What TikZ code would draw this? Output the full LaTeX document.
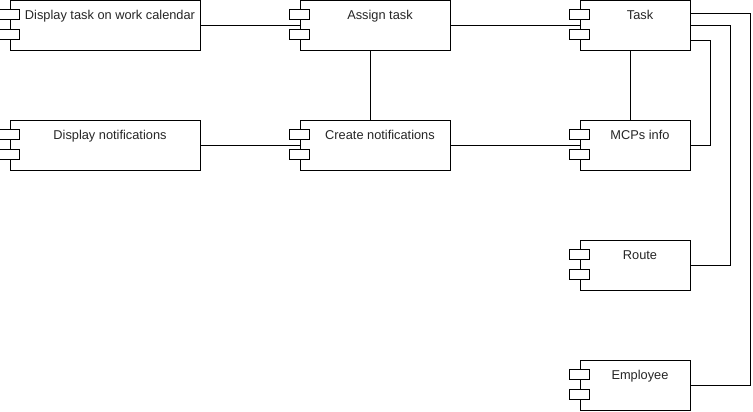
\documentclass[tikz,border=0pt]{standalone}
\usepackage{fontspec}
\setmainfont{Liberation Sans}
\usepackage{tikz}
\usetikzlibrary{calc}

\begin{document}
\begin{tikzpicture}[-,x=0.75pt,y=-0.75pt,line width=0.75pt]
 	\tikzstyle{comp}=[draw=black, fill=white, text=black!85, font=\fontsize{9.6pt}{11.5pt}\selectfont, minimum height=37.5pt, inner xsep=0pt, inner ysep=0pt, text height=14.25pt, text depth=23.25pt, execute at begin node=\hspace*{7.5pt}]
 	\tikzstyle{port}=[draw=black, fill=white]
 	\useasboundingbox (0,0) rectangle (753,411);
			\node[comp, minimum width=142.5pt] (cal) at (105,25.5) {Display task on work calendar};
			\node[comp, minimum width=142.5pt] (notif) at (105,145.5) {Display notifications};
			\node[comp, minimum width=112.5pt] (assign) at (375,25.5) {Assign task};
			\node[comp, minimum width=112.5pt] (create) at (375,145.5) {Create notifications};
			\node[comp, minimum width=82.5pt] (task) at (635,25.5) {Task};
			\node[comp, minimum width=82.5pt] (mcp) at (635,145.5) {MCPs info};
			\node[comp, minimum width=82.5pt] (route) at (635,265.5) {Route};
			\node[comp, minimum width=82.5pt] (emp) at (635,385.5) {Employee};

		 	\draw (cal) -- (assign);
		 	\draw (notif) -- (create);
		 	\draw (assign) -- (task);
		 	\draw (create) -- (mcp);
		 	\draw ([xshift=-3.75pt]assign.south) -- ([xshift=-3.75pt]create.north);
		 	\draw ([xshift=-3.75pt]task.south) -- ([xshift=-3.75pt]mcp.north);
		 	\draw ([yshift=-11.25pt]task.east) -- ++(20,0) |- (mcp.east);
		 	\draw (task.east) -- ++(40,0) |- (route.east);
		 	\draw ([yshift=9.375pt]task.east) -- ++(60,0) |- (emp.east);

		 		\foreach \n in {cal,notif,assign,create,task,mcp,route,emp}{
		 		 \foreach \dy in {9.5,29.5}{
		 			\draw[port] ($(\n.north west)+(-10,\dy)$) rectangle ++(20,10);
		 			}
		 			}
\end{tikzpicture}
\end{document}
